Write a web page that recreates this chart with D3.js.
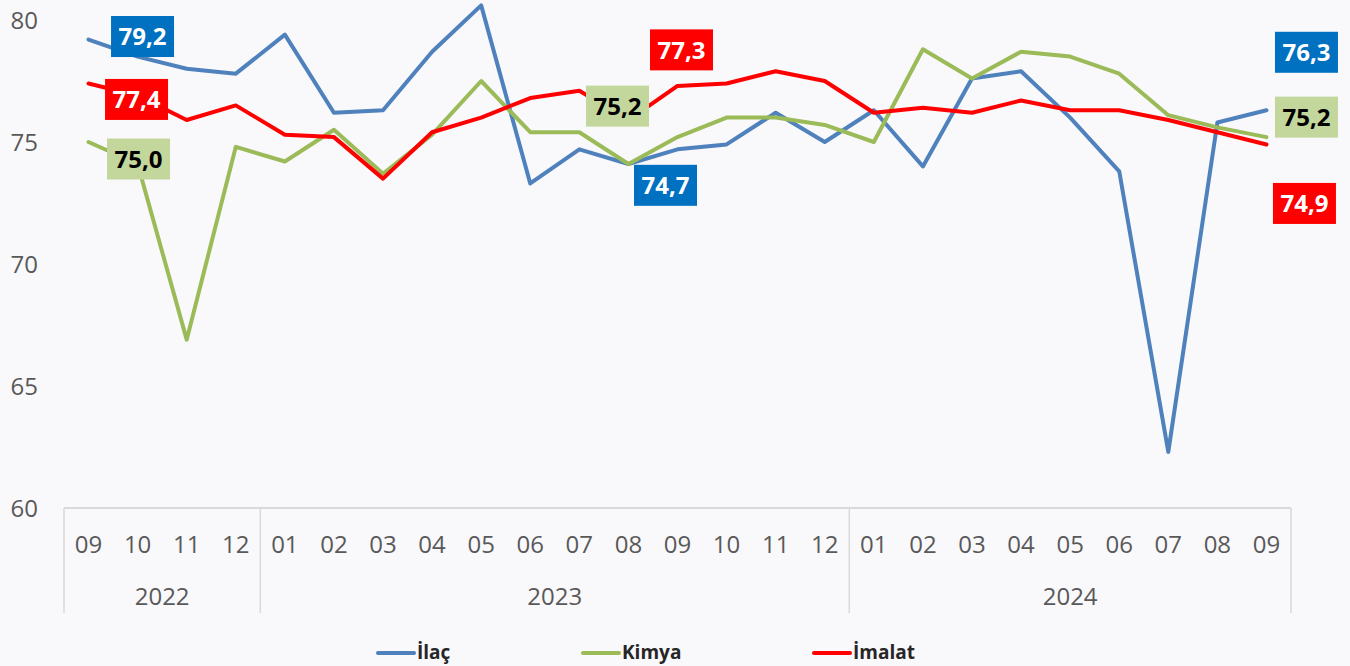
<!DOCTYPE html>
<html>
<head>
<meta charset="utf-8">
<script src="https://cdn.jsdelivr.net/npm/d3@7"></script>
<style>
  body { margin:0; background:#f9f8fb; }
  svg { display:block; font-family:"Open Sans", sans-serif; }
  .tick-txt { fill:#595959; font-size:24px; }
  .lbl { font-weight:bold; font-size:24px; }
  .leg { font-weight:bold; font-size:19px; fill:#262626; }
</style>
</head>
<body>
<div id="chart"></div>
<script>
// months 2022-09 .. 2024-09
var months = ["09","10","11","12","01","02","03","04","05","06","07","08","09","10","11","12","01","02","03","04","05","06","07","08","09"];
var years = [{ name:"2022", from:0, to:4 }, { name:"2023", from:4, to:16 }, { name:"2024", from:16, to:25 }];
var yTicks = [60, 65, 70, 75, 80];

var ilac   = [79.2,78.5,78.0,77.8,79.4,76.2,76.3,78.7,80.6,73.3,74.7,74.1,74.7,74.9,76.2,75.0,76.3,74.0,77.6,77.9,76.0,73.8,62.3,75.8,76.3];
var kimya  = [75.0,74.1,66.9,74.8,74.2,75.5,73.7,75.3,77.5,75.4,75.4,74.1,75.2,76.0,76.0,75.7,75.0,78.8,77.6,78.7,78.5,77.8,76.1,75.6,75.2];
var imalat = [77.4,76.9,75.9,76.5,75.3,75.2,73.5,75.4,76.0,76.8,77.1,75.9,77.3,77.4,77.9,77.5,76.2,76.4,76.2,76.7,76.3,76.3,75.9,75.4,74.9];

var seriesNames = ["İlaç", "Kimya", "İmalat"];
var labelIdx = [0, 12, 24];

var width = 1350, height = 666;
var svg = d3.select("#chart").append("svg")
    .attr("width", width)
    .attr("height", height);

var x = d3.scaleBand()
    .domain(d3.range(months.length))
    .range([64, 1291]);

var y = d3.scaleLinear()
    .domain([60, 80])
    .range([508, 20]);

function cx(i){ return x(i) + x.bandwidth()/2; }

// y tick labels
svg.selectAll("text.ytick")
  .data(yTicks)
  .enter().append("text")
    .attr("class", "tick-txt ytick")
    .attr("x", 38)
    .attr("y", function(d){ return y(d); })
    .attr("dy", "0.36em")
    .attr("text-anchor", "end")
    .text(function(d){ return d; });

// category axis
var axisCol = "#d9d9d9";
svg.append("line")
    .attr("x1", x.range()[0]).attr("x2", x.range()[1])
    .attr("y1", y(60)).attr("y2", y(60))
    .attr("stroke", axisCol).attr("stroke-width", 2);

var seps = [years[0].from].concat(years.map(function(d){ return d.to; }));
svg.selectAll("line.sep")
  .data(seps)
  .enter().append("line")
    .attr("class", "sep")
    .attr("x1", function(d){ return x(0) + d * x.bandwidth(); })
    .attr("x2", function(d){ return x(0) + d * x.bandwidth(); })
    .attr("y1", y(60)).attr("y2", 613)
    .attr("stroke", axisCol).attr("stroke-width", 1.5);

svg.selectAll("text.month")
  .data(months)
  .enter().append("text")
    .attr("class", "tick-txt month")
    .attr("x", function(d,i){ return cx(i); })
    .attr("y", 553)
    .attr("text-anchor", "middle")
    .text(function(d){ return d; });

svg.selectAll("text.year")
  .data(years)
  .enter().append("text")
    .attr("class", "tick-txt year")
    .attr("x", function(d){ return x(0) + (d.from + d.to) / 2 * x.bandwidth(); })
    .attr("y", 605)
    .attr("text-anchor", "middle")
    .text(function(d){ return d.name; });

// lines
var lineColors = ["#4f81bd", "#9bbb59", "#ff0000"];
var boxColors  = ["#0070c0", "#c3d69b", "#ff0000"];
var txtColors  = ["#ffffff", "#000000", "#ffffff"];
var allSeries = [ilac, kimya, imalat];

var line = d3.line()
    .x(function(d,i){ return cx(i); })
    .y(function(d){ return y(d); });

svg.selectAll("path.series")
  .data(allSeries)
  .enter().append("path")
    .attr("class", "series")
    .attr("d", line)
    .attr("fill", "none")
    .attr("stroke", function(d,i){ return lineColors[i]; })
    .attr("stroke-width", 4)
    .attr("stroke-linejoin", "round")
    .attr("stroke-linecap", "round");

// label offsets from the point: [series][label]
var offs = [
  [[54, -3], [-12, 36], [40, -58]],
  [[50, 17], [-60, -31], [40, -20]],
  [[48, 16], [4, -36], [38, 59]]
];
var fmt = function(v){ return v.toFixed(1).replace(".", ","); };
var bw = 63, bh = 41;

allSeries.forEach(function(s, si){
  labelIdx.forEach(function(idx, li){
    var px = cx(idx) + offs[si][li][0],
        py = y(s[idx]) + offs[si][li][1];
    var g = svg.append("g").attr("transform", "translate(" + px + "," + py + ")");
    g.append("rect")
      .attr("x", -bw/2).attr("y", -bh/2)
      .attr("width", bw).attr("height", bh)
      .attr("fill", boxColors[si]);
    g.append("text")
      .attr("class", "lbl")
      .attr("text-anchor", "middle")
      .attr("dy", "0.36em")
      .attr("fill", txtColors[si])
      .text(fmt(s[idx]));
  });
});

// legend
var legX = [376, 581, 812];
var leg = svg.selectAll("g.leg")
  .data(seriesNames)
  .enter().append("g")
    .attr("class", "leg")
    .attr("transform", function(d,i){ return "translate(" + legX[i] + ",653)"; });
leg.append("line")
    .attr("x1", 2).attr("x2", 38)
    .attr("stroke", function(d,i){ return lineColors[i]; })
    .attr("stroke-width", 4)
    .attr("stroke-linecap", "round");
leg.append("text")
    .attr("class", "leg")
    .attr("x", 41)
    .attr("y", 6)
    .text(function(d){ return d; });
</script>
</body>
</html>
